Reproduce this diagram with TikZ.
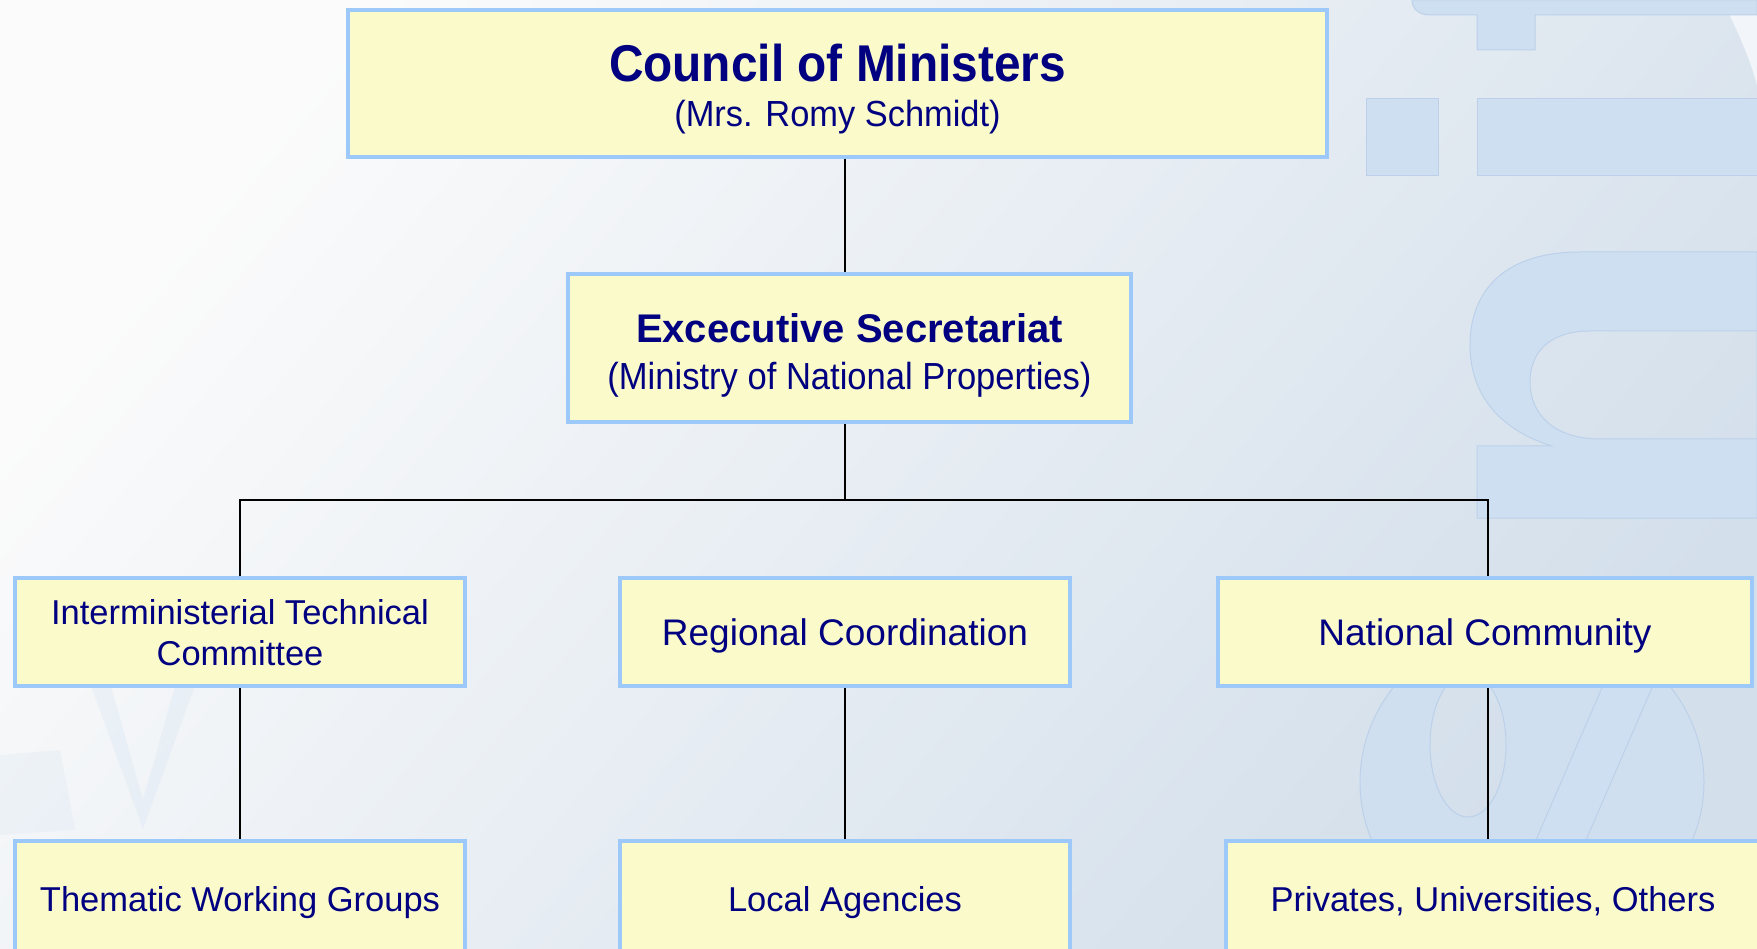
\documentclass[tikz,border=0pt]{standalone}
\usepackage{fontspec}
\setmainfont{Liberation Sans}
\newfontfamily\condA[FakeStretch=0.925]{Liberation Sans}
\newfontfamily\condB[FakeStretch=0.948]{Liberation Sans}
\newfontfamily\condC[FakeStretch=0.917]{Liberation Sans}
\definecolor{navy}{HTML}{000080}
\definecolor{boxfill}{HTML}{FAFACB}
\definecolor{boxline}{HTML}{9DC8FA}
\definecolor{bgA}{HTML}{FBFBFB}
\definecolor{bgM}{HTML}{E4EAF1}
\definecolor{bgB}{HTML}{D3DFEB}
\definecolor{wm}{HTML}{CEDFF2}
\definecolor{wmline}{HTML}{BCD1E9}
\begin{document}
\begin{tikzpicture}[x=1pt,y=-1pt,
  box/.style={rectangle, draw=boxline, fill=boxfill, line width=3.5pt, text=navy, align=center, inner sep=0pt},
  conn/.style={draw=black, line width=2pt},
  wmark/.style={fill=wm, draw=wmline, line width=1pt}]
\useasboundingbox (0,0) rectangle (1757,949);
\clip (0,0) rectangle (1757,949);
% background
\shade[top color=bgA, middle color=bgM, bottom color=bgB, shading angle=50] (0,0) rectangle (1757,949);
% watermark
\fill[white!70!bgB] (1722,0) .. controls (1740,35) and (1750,60) .. (1757,85) -- (1757,0) -- cycle;
\path[wmark] (1425,0) -- (1757,0) -- (1757,15) -- (1535,15) -- (1535,50) -- (1477,50) -- (1477,15) -- (1430,15) .. controls (1418,15) and (1412,8) .. (1412,0) -- cycle;
\path[wmark] (1366,99) rectangle (1438,176);
\path[wmark] (1477,99) rectangle (1757,176);
\path[wmark, even odd rule] (1757,252) -- (1580,252) .. controls (1500,252) and (1470,295) .. (1470,345) .. controls (1470,395) and (1500,430) .. (1552,446) -- (1477,446) -- (1477,518) -- (1757,518) -- cycle
  (1757,331) -- (1590,331) .. controls (1550,331) and (1530,352) .. (1530,382) .. controls (1530,415) and (1555,439) .. (1600,439) -- (1757,439) -- cycle;
\path[wmark, fill opacity=0.7, even odd rule] (1532,782) ellipse [x radius=172, y radius=160]
  (1468,745) ellipse [x radius=38, y radius=72];
\path[wmark, fill opacity=0.7] (1640,600) -- (1690,600) -- (1560,900) -- (1510,900) -- cycle;
\path[fill=wm, fill opacity=0.25] (90,683) -- (110,683) -- (143,800) -- (176,683) -- (196,683) -- (143,829) -- cycle;
\path[fill=wm, fill opacity=0.2] (0,755) -- (60,750) -- (75,830) -- (0,835) -- cycle;
% named points for connectors
\coordinate (trunk) at (845,0);
\coordinate (ncol) at (1488,0);
\coordinate (bus) at (0,500);
% nodes
\node[box, minimum width=979pt, minimum height=147pt] (council) at (837.5,83.5)
  {\raisebox{0pt}[87pt][0pt]{\fontsize{36}{45}\selectfont\begin{tabular}[b]{@{}c@{}}%
   {\condA\bfseries\fontsize{51.7}{45}\selectfont Council of Ministers}\\
   {\condB\fontsize{36.3}{45}\selectfont (Mrs. Romy Schmidt)}\end{tabular}}};
\node[box, minimum width=563pt, minimum height=148pt] (exec) at (849.5,348)
  {\raisebox{0pt}[84pt][0pt]{\fontsize{37.7}{47}\selectfont\begin{tabular}[b]{@{}c@{}}%
   {\bfseries\fontsize{40}{47}\selectfont Excecutive Secretariat}\\
   {\condC\fontsize{37.7}{47}\selectfont (Ministry of National Properties)}\end{tabular}}};
\node[box, minimum width=450pt, minimum height=108pt, text depth=0pt, font=\fontsize{34.5}{41}\selectfont] (itc) at (240,632)
  {Interministerial Technical\\Committee};
\node[box, minimum width=450pt, minimum height=108pt, text height=26pt, text depth=0pt, font=\fontsize{37}{44}\selectfont] (regional) at (845,632)
  {Regional Coordination};
\node[box, minimum width=534pt, minimum height=108pt, text height=26pt, text depth=0pt, font=\fontsize{37}{44}\selectfont] (national) at (1485,632)
  {National Community};
\node[box, minimum width=450pt, minimum height=110pt, text height=31pt, text depth=0pt, font=\fontsize{34.5}{41}\selectfont] (thematic) at (240,896)
  {Thematic Working Groups};
\node[box, minimum width=450pt, minimum height=110pt, text height=31pt, text depth=0pt, font=\fontsize{34.5}{41}\selectfont] (local) at (845,896)
  {Local Agencies};
\node[box, minimum width=534pt, minimum height=110pt, text height=31pt, text depth=0pt, font=\fontsize{34.5}{41}\selectfont] (privates) at (1493,896)
  {Privates, Universities, Others};
% connectors
\draw[conn] (council.south -| trunk) -- (exec.north -| trunk);
\draw[conn] (exec.south -| trunk) -- (trunk |- bus);
\draw[conn] (itc.north) |- (bus -| ncol) -- (national.north -| ncol);
\draw[conn] (itc.south) -- (thematic.north);
\draw[conn] (regional.south) -- (local.north);
\draw[conn] (national.south -| ncol) -- (privates.north -| ncol);
\end{tikzpicture}
\end{document}
